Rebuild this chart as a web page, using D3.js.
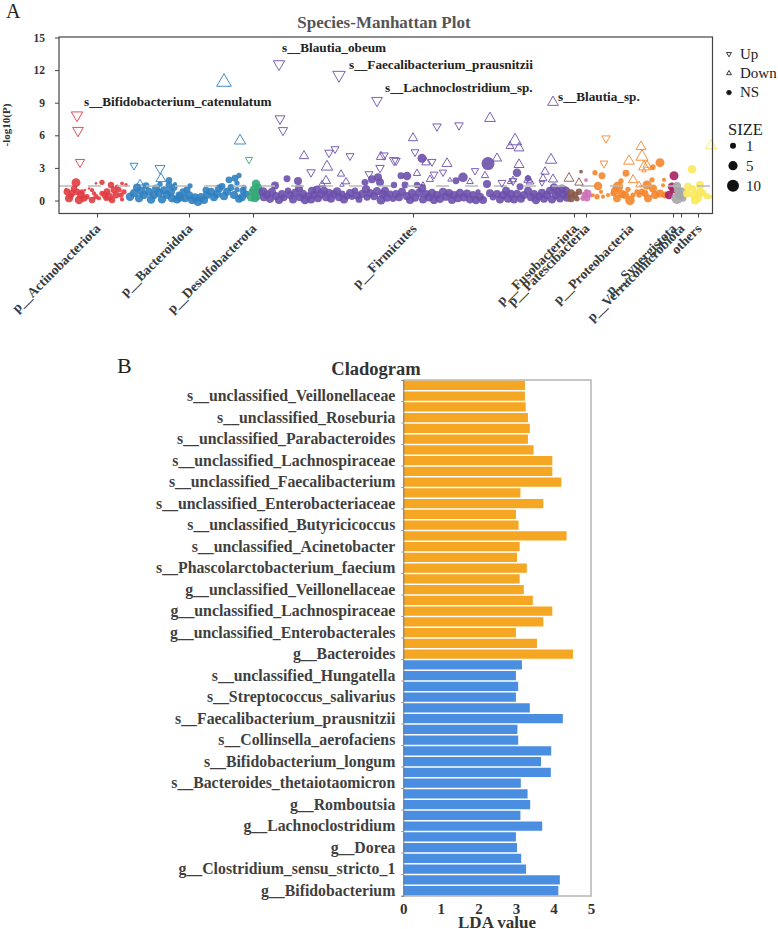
<!DOCTYPE html>
<html>
<head>
<meta charset="utf-8">
<title>Species-Manhattan Plot and Cladogram</title>
<script src="https://cdn.jsdelivr.net/npm/d3@7"></script>
<style>
	html, body { margin: 0; padding: 0; background: #fff; }
	svg { display: block; }
	text { font-family: "Liberation Serif", serif; }
</style>
</head>
<body>
<div id="chart"></div>
<script>
// phylum names, tick positions along the species axis and colours
var phyla = ["p__Actinobacteriota", "p__Bacteroidota", "p__Desulfobacterota", "p__Firmicutes", "p__Fusobacteriota", "p__Patescibacteria", "p__Proteobacteria", "p__Synergistota", "p__Verrucomicrobiota", "others"];
var phylumTicks = [38, 130, 194, 354, 515, 527, 571, 614, 622, 639];
var phylumColors = ["#e03c41", "#2f7fc0", "#35a878", "#6c50ac", "#8a5a4c", "#cd70b6", "#f4862e", "#a81f60", "#a6a6aa", "#f9e95c"];

// non significant species: [position, -log10(P), size], one list per phylum
var actinoDots = [[8,.8,.8],[10,.2,1],[12,.4,.5],[13,.66,.8],[15,1.1,.7],[17,1.64,2.7],[18,.8,.7],[20,.05,1.8],[22,.5,1],[23,.8,.5],[25,.2,.8],[7,1.03,0],[26,.97,0],[28,.35,.5],[30,1.1,0],[33,.95,.3],[33,.05,.7],[35,.66,.3],[37,.35,.5],[37,1.58,0],[40,.2,.3],[43,.66,.5],[43,1.67,.5],[46,.5,.8],[47,.2,.5],[48,.8,.8],[50,.35,1],[52,1.43,.7],[53,.05,.7],[55,.97,.8],[57,.5,.8],[58,1.27,.3],[60,1,.5],[62,.5,.5],[63,.1,.3],[63,1.58,.2],[65,.8,.5],[67,1.43,.2]];
var bacteroDots = [[71,.35,1.8],[75,.7,1],[78,1.2,1],[80,.2,1.2],[82,.9,1.5],[85,.5,1],[87,1.35,.8],[90,.8,1],[92,.1,1.8],[95,.5,1],[97,1.1,1],[100,.7,1.2],[101,1.5,.5],[103,.1,1.5],[105,.95,1],[108,.5,1],[110,1.4,.8],[110,1.87,.7],[112,.8,1],[113,.2,1.2],[115,1.2,.8],[116,1.5,.3],[118,.1,1],[120,.5,.8],[121,.3,1.8],[124,.8,.8],[126,.2,1],[128,1,.8],[130,.5,1.5],[131,1.35,.5],[133,.05,1.5],[136,.3,1],[139,-.1,2.7],[142,.3,1.5],[145,.05,1.2],[147,.95,.8],[148,.5,1],[152,.8,1],[155,.3,1],[158,.6,1],[160,1.1,1],[163,1.3,.8],[165,.4,1.2],[168,.8,1],[170,1.9,.8],[172,1.2,.8],[175,.5,1],[176,2.05,.8],[178,1,.5],[178,1.6,.5],[180,2.3,.5],[180,.15,1],[183,.3,1],[184,.9,.8],[185,1.2,.5],[187,.6,.8]];
var desulfoDots = [[192,.3,1.5],[193,.8,.8],[195,1,1.2],[196,.2,1],[197,1.55,1.8],[198,.4,1],[199,1.2,1],[200,.8,1]];
var firmiDots = [[204,.8,3],[205,.3,1.2],[208,.55,1.5],[211,.15,1.2],[213,.8,1],[216,1.37,1],[217,.4,1.5],[220,.05,1.2],[223,.6,1],[225,.25,.8],[228,2,.8],[229,.9,.7],[231,.5,1],[234,.1,1],[236,.7,1.2],[239,1.8,1],[240,1.1,1],[241,.3,1.2],[244,.6,1.5],[246,.05,1.8],[249,.4,1],[252,.1,1.2],[253,.9,1.2],[255,.5,1],[258,1,1.2],[259,.2,1],[262,.6,1.5],[265,.9,1.2],[267,.3,1.2],[270,.7,1.5],[272,.15,1],[275,.6,1],[278,.85,1.2],[280,.3,1.2],[283,.6,.8],[285,.1,1],[288,.4,.8],[291,.7,1],[293,.3,.5],[296,.9,.7],[298,.45,1],[300,.1,.8],[303,.6,1],[306,1.67,.8],[307,1.03,1.8],[308,.3,.8],[311,.7,1],[313,1.95,1],[315,.4,1.5],[318,.85,1.5],[319,2.13,1],[321,1.67,1],[322,.05,2.7],[324,.6,1.5],[326,.9,1],[328,.25,1],[331,.6,.8],[334,.15,.7],[335,1.43,.7],[337,.6,1],[340,.3,1],[342,2.28,.8],[343,.8,1],[346,1.43,.8],[348,2.25,1.8],[348,.4,1.2],[351,.05,1],[353,.7,1],[356,.25,1.2],[358,1.43,.7],[360,.7,1.2],[363,3.88,2.7],[363,1.12,1.8],[364,.1,1],[367,.6,1],[370,.3,1.8],[373,.7,1.5],[375,.05,1.5],[378,.5,1.2],[381,.15,1.8],[384,.8,1.5],[387,.35,1.5],[390,.7,1],[393,.05,1],[395,.5,1.2],[397,1.82,.8],[399,.2,1],[401,.7,1.8],[404,2.13,3.5],[405,.3,1.5],[408,.65,1],[411,.1,1.5],[414,.5,1.5],[417,.05,1.8],[419,.8,.5],[421,.35,1.2],[424,.05,1],[428,1.52,1],[429,3.4,10],[431,.66,1],[434,.3,.7],[438,.6,1],[441,.1,1],[444,.5,1.5],[447,.9,1],[449,.2,2.7],[452,.6,1.8],[455,.1,1.5],[458,2.56,1.8],[458,.6,1.5],[461,1.27,.8],[462,.15,1],[465,.5,1.2],[469,2.04,.7],[469,.9,1],[472,.3,1.2],[475,.6,1],[477,.05,1.8],[480,.4,1],[483,.7,1.2],[485,.15,1],[488,.5,1.2],[491,.9,1.2],[493,.1,1.5],[495,1.2,1.5],[497,.5,1.8],[499,.8,1.5],[501,.2,1.5],[503,1.1,1.5],[505,.55,1.8],[507,.9,1.5],[508,.25,1]];
var fusoDots = [[512,.66,1],[512,.2,1],[516,.5,.8],[518,.15,.5],[520,.8,.7],[522,2.65,.2]];
var patesciDots = [[524,.2,.5],[526,.5,.8],[527,1.88,.2],[527,.9,.2],[528,.2,.7],[529,.66,.8],[532,.44,.2]];
var proteoDots = [[534,.5,.2],[536,2.56,.5],[538,.35,.5],[539,1.33,1.8],[542,.8,.3],[543,2.28,.8],[544,.35,.3],[549,.5,.3],[554,.65,.5],[556,.9,1],[558,.2,1],[559,1.27,5],[562,1.8,.5],[563,.6,1],[566,.5,1],[567,2.5,.8],[569,1.03,.5],[571,0,3.5],[574,.5,.5],[578,.8,.5],[580,.5,.5],[583,.8,.7],[586,.65,.8],[588,1.43,2.7],[589,.2,1],[593,1.9,.5],[594,1.1,1],[594,3.1,.5],[596,.5,1],[601,3.48,2.7],[601,.65,1],[604,1.4,.3],[606,.5,.8],[605,1.9,.3]];
var synerDots = [[610,.5,1.8],[613,1.27,1.8],[614,.95,.7],[615,2.28,2.7]];
var verruDots = [[618,1.33,1.8],[618,.2,7],[619,.95,1.8],[621,.5,2.7],[623,.8,1.8],[624,.2,.8]];
var otherDots = [[629,1.27,1],[628,.65,1],[633,2.87,1.8],[634,1.1,.7],[636,.5,5],[636,0,1],[639,.2,1],[641,1.43,1],[641,.8,1],[644,.66,.8],[648,.4,.7],[651,.35,.3]];
var phylumDots = [actinoDots, bacteroDots, desulfoDots, firmiDots, fusoDots, patesciDots, proteoDots, synerDots, verruDots, otherDots];

// significant species: [position, -log10(P), size, phylum index]
var upMarks = [[18,7.85,5.2,0],[19,6.44,4.5,0],[21,3.53,3,0],[75,3.22,1.6,1],[101,2.95,3.7,1],[190,3.77,1,2],[220,12.56,5.2,3],[280,11.55,7,3],[318,9.2,4.5,3],[221,7.53,3.7,3],[224,6.46,3,3],[252,2.6,2.2,3],[270,4.4,2.2,3],[276,4.74,1.6,3],[291,4.1,1.6,3],[310,2.44,1.6,3],[321,3,2.2,3],[325,4.15,2.2,3],[335,3.7,3,3],[337,3.66,2.2,3],[356,4.46,1.6,3],[373,3.57,1.6,3],[375,2.4,1.6,3],[378,6.82,2.2,3],[384,2.6,1,3],[400,6.92,2.2,3],[416,2.74,1,3],[443,1.64,1.6,3],[454,1.8,1.6,3],[483,1.6,.6,3],[547,5.72,2.2,6],[545,3.42,1.6,6]];
var downMarks = [[81,1.6,.85,1],[102,2,3.7,1],[165,10.9,10,1],[181,5.5,5.2,1],[245,4.1,3,3],[268,3.1,5.2,3],[267,1.82,3,3],[263,1.5,.85,3],[282,2.44,1,3],[287,1.73,1,3],[283,1.43,.4,3],[322,4.03,3,3],[354,5.75,3,3],[358,2.5,1,3],[364,1.5,.4,3],[367,3.5,2.2,3],[371,1.95,1,3],[388,3.4,3.7,3],[391,1.9,.4,3],[411,1.73,.85,3],[426,2.3,1,3],[431,7.56,4.5,3],[438,3.88,3,3],[451,5,1.6,3],[451,1.7,.6,3],[454,1.9,.85,3],[456,5.48,8,3],[460,4.83,3.7,3],[460,3.3,3.7,3],[469,1.9,2.2,3],[471,1.73,1.6,3],[484,2.04,1.6,3],[486,2.65,2.2,3],[492,3.73,5.2,3],[494,9.04,4.5,3],[494,1.95,3,3],[510,2.04,3.7,4],[520,1.64,2.2,4],[570,3.63,4.5,6],[574,1.89,3,6],[580,1.43,.85,6],[582,4.95,3.7,6],[583,4.03,6.5,6],[585,3.1,4.5,6],[585,2.75,.4,6],[588,3.27,1.6,6],[593,2.96,.4,6],[652,5.05,4.5,9]];

// named species beside their marks: [name, position, -log10(P)]
var speciesNotes = [["s__Bifidobacterium_catenulatum",25,9.06],["s__Blautia_obeum",223,14.1],["s__Faecalibacterium_prausnitzii",290,12.47],["s__Lachnoclostridium_sp.",326,10.35],["s__Blautia_sp.",499,9.5]];

var yTicks = [0, 3, 6, 9, 12, 15];
var shapeLegend = ["Up", "Down", "NS"];
var sizeLegend = [1, 5, 10];

// LDA bars, top to bottom. only every second bar has a label
var enrichedNames = ["s__unclassified_Veillonellaceae", "s__unclassified_Roseburia", "s__unclassified_Parabacteroides", "s__unclassified_Lachnospiraceae", "s__unclassified_Faecalibacterium", "s__unclassified_Enterobacteriaceae", "s__unclassified_Butyricicoccus", "s__unclassified_Acinetobacter", "s__Phascolarctobacterium_faecium", "g__unclassified_Veillonellaceae", "g__unclassified_Lachnospiraceae", "g__unclassified_Enterobacterales", "g__Bacteroides"];
var enrichedLda = [3.24, 3.24, 3.26, 3.32, 3.37, 3.32, 3.47, 3.97, 3.97, 4.21, 3.12, 3.73, 3.0, 3.07, 4.35, 3.1, 3.03, 3.29, 3.1, 3.21, 3.45, 3.97, 3.73, 3.0, 3.56, 4.52];
var depletedNames = ["s__unclassified_Hungatella", "s__Streptococcus_salivarius", "s__Faecalibacterium_prausnitzii", "s__Collinsella_aerofaciens", "s__Bifidobacterium_longum", "s__Bacteroides_thetaiotaomicron", "g__Romboutsia", "g__Lachnoclostridium", "g__Dorea", "g__Clostridium_sensu_stricto_1", "g__Bifidobacterium"];
var depletedLda = [3.16, 3.0, 3.06, 3.0, 3.37, 4.25, 3.04, 3.06, 3.94, 3.67, 3.93, 3.13, 3.31, 3.38, 3.12, 3.7, 3.0, 3.03, 3.14, 3.27, 4.17, 4.13];
var ldaTicks = [0, 1, 2, 3, 4, 5];

var svg = d3.select("#chart").append("svg")
	.attr("width", 778)
	.attr("height", 929);

var textDark = "#333";

// panel letters
svg.append("text").attr("x", 6).attr("y", 18).attr("font-size", 20).attr("fill", "#222").text("A");
svg.append("text").attr("x", 117).attr("y", 373).attr("font-size", 22).attr("fill", "#222").text("B");

// ---- manhattan plot ----
var plot = {left: 59, right: 712.5, top: 37, bottom: 213.5};

var x = d3.scaleLinear().domain([0, 653.5]).range([plot.left, plot.right]);
var y = d3.scaleLinear().domain([0, 15]).range([200.5, 37.5]);
var radius = d3.scaleLinear().domain([0, 1, 5, 10]).range([1, 3, 4.6, 6]);
// the dots of the plot come out fatter than the legend keys
var dotRadius = d3.scaleLinear().domain([0, 1, 5, 10]).range([1.3, 4, 5.2, 6.5]);

function triangleArea(size) {
	// equilateral triangle whose half width follows the dot radius
	var side = 2 * 1.22 * radius(size);
	return Math.sqrt(3) / 4 * side * side;
}
var triangle = d3.symbol().type(d3.symbolTriangle);

svg.append("text")
	.attr("x", 384)
	.attr("y", 27.5)
	.attr("text-anchor", "middle")
	.attr("font-size", 17)
	.attr("font-weight", "bold")
	.attr("fill", "#555")
	.text("Species-Manhattan Plot");

// the dots, phylum after phylum
phylumDots.forEach(function (dots, i) {
	svg.append("g")
		.attr("fill", phylumColors[i])
		.attr("fill-opacity", 0.9)
		.selectAll("circle")
		.data(dots)
		.join("circle")
		.attr("cx", function (d) { return x(d[0]); })
		.attr("cy", function (d) { return y(d[1]); })
		.attr("r", function (d) { return dotRadius(d[2]); });
});

// significance line
svg.append("line")
	.attr("x1", plot.left)
	.attr("x2", plot.right)
	.attr("y1", y(1.33))
	.attr("y2", y(1.33))
	.attr("stroke", "#b9b9b9")
	.attr("stroke-width", 1.5)
	.attr("stroke-dasharray", "13 16");

function drawMarks(marks, rotation) {
	svg.append("g")
		.attr("fill", "none")
		.attr("stroke-width", 1)
		.attr("stroke-opacity", 0.9)
		.selectAll("path")
		.data(marks)
		.join("path")
		.attr("d", function (d) { return triangle.size(triangleArea(d[2]))(); })
		.attr("stroke", function (d) { return phylumColors[d[3]]; })
		.attr("transform", function (d) { return "translate(" + x(d[0]) + "," + y(d[1]) + ") rotate(" + rotation + ")"; });
}
drawMarks(upMarks, 180);
drawMarks(downMarks, 0);

svg.append("g")
	.selectAll("text")
	.data(speciesNotes)
	.join("text")
	.attr("x", function (d) { return x(d[1]); })
	.attr("y", function (d) { return y(d[2]); })
	.attr("dy", "0.32em")
	.attr("font-size", 13.2)
	.attr("font-weight", "bold")
	.attr("fill", "#222")
	.text(function (d) { return d[0]; });

// frame and axes
svg.append("rect")
	.attr("x", plot.left)
	.attr("y", plot.top)
	.attr("width", plot.right - plot.left)
	.attr("height", plot.bottom - plot.top)
	.attr("fill", "none")
	.attr("stroke", "#444")
	.attr("stroke-width", 1.2);

var yAxis = svg.append("g")
	.attr("transform", "translate(" + plot.left + ",0)")
	.call(d3.axisLeft(y).tickValues(yTicks).tickSize(4).tickPadding(10));
yAxis.select(".domain").remove();
yAxis.selectAll("line").attr("stroke", "#444");
yAxis.selectAll("text")
	.attr("font-size", 11.5)
	.attr("font-weight", "bold")
	.attr("font-family", "Liberation Serif")
	.attr("fill", textDark);

svg.append("text")
	.attr("transform", "translate(10,125) rotate(-90)")
	.attr("text-anchor", "middle")
	.attr("font-size", 11)
	.attr("font-weight", "bold")
	.attr("fill", textDark)
	.text("-log10(P)");

var xAxis = svg.append("g")
	.attr("transform", "translate(0," + plot.bottom + ")")
	.call(d3.axisBottom(x)
		.tickValues(phylumTicks)
		.tickSize(4)
		.tickFormat(function (d, i) { return phyla[i]; }));
xAxis.select(".domain").remove();
xAxis.selectAll("line").attr("stroke", "#444");
xAxis.selectAll("text")
	.attr("text-anchor", "end")
	.attr("x", 1)
	.attr("y", 13)
	.attr("dy", "0.3em")
	.attr("transform", "rotate(-45 1 13)")
	.attr("font-size", 13.6)
	.attr("font-weight", "bold")
	.attr("font-family", "Liberation Serif")
	.attr("fill", "#3a3a3a");

// legend
var shapeRows = svg.append("g").selectAll("g")
	.data(shapeLegend)
	.join("g")
	.attr("transform", function (d, i) { return "translate(729," + (54 + i * 19.3) + ")"; });
shapeRows.append("path")
	.attr("d", function (d) {
		if (d == "NS") return d3.symbol().type(d3.symbolCircle).size(16)();
		return triangle.size(triangleArea(0.5))();
	})
	.attr("transform", function (d) { return d == "Up" ? "rotate(180)" : null; })
	.attr("fill", function (d) { return d == "NS" ? "#111" : "none"; })
	.attr("stroke", "#333");
shapeRows.append("text")
	.attr("x", 11)
	.attr("dy", "0.32em")
	.attr("font-size", 15)
	.attr("fill", "#222")
	.text(function (d) { return d; });

svg.append("text")
	.attr("x", 728)
	.attr("y", 135)
	.attr("font-size", 16.5)
	.attr("fill", "#222")
	.text("SIZE");

var sizeRows = svg.append("g").selectAll("g")
	.data(sizeLegend)
	.join("g")
	.attr("transform", function (d, i) { return "translate(733," + (145.7 + i * 20) + ")"; });
sizeRows.append("circle")
	.attr("r", function (d) { return radius(d); })
	.attr("fill", "#111");
sizeRows.append("text")
	.attr("x", 13)
	.attr("dy", "0.35em")
	.attr("font-size", 15)
	.attr("fill", "#222")
	.text(function (d) { return d; });

// ---- cladogram bars ----
var bars = {left: 403.3, right: 591, top: 380, bottom: 896};

var ldaValues = enrichedLda.concat(depletedLda);
var barLabels = enrichedNames.concat(depletedNames);
var barIndex = d3.range(ldaValues.length);

var lda = d3.scaleLinear().domain([0, 5]).range([bars.left, bars.right]);
var band = d3.scaleBand().domain(barIndex).range([bars.top, bars.bottom]).paddingInner(0.14).paddingOuter(0.07);

svg.append("text")
	.attr("x", 376)
	.attr("y", 375)
	.attr("text-anchor", "middle")
	.attr("font-size", 18.5)
	.attr("font-weight", "bold")
	.attr("fill", textDark)
	.text("Cladogram");

// grey frame on top, right and bottom
svg.append("path")
	.attr("d", d3.line()([[bars.left, bars.top], [bars.right, bars.top], [bars.right, bars.bottom], [bars.left, bars.bottom]]))
	.attr("fill", "none")
	.attr("stroke", "#b5b5b5")
	.attr("stroke-width", 1.5);

svg.append("g")
	.selectAll("rect")
	.data(barIndex)
	.join("rect")
	.attr("x", lda(0))
	.attr("y", function (d) { return band(d); })
	.attr("width", function (d) { return lda(ldaValues[d]) - lda(0); })
	.attr("height", band.bandwidth())
	.attr("fill", function (d) { return d < enrichedLda.length ? "#f5a623" : "#4a8ee2"; });

// labels sit on the odd bars, the tick marks on the lower edge of those bars
var labelledBars = barIndex.filter(function (d) { return d % 2 == 1; });
var labelAxis = svg.append("g")
	.attr("transform", "translate(" + bars.left + ",0)")
	.call(d3.axisLeft(band)
		.tickValues(labelledBars)
		.tickSize(2)
		.tickPadding(6)
		.tickFormat(function (d, i) { return barLabels[i]; }));
labelAxis.select(".domain").attr("stroke", "#777");
labelAxis.selectAll("line")
	.attr("stroke", "#999")
	.attr("y1", band.step() / 2)
	.attr("y2", band.step() / 2);
labelAxis.selectAll("text")
	.attr("font-size", 15.8)
	.attr("font-weight", "bold")
	.attr("font-family", "Liberation Serif")
	.attr("fill", "#3f3f3f");

var ldaAxis = svg.append("g")
	.attr("transform", "translate(0," + bars.bottom + ")")
	.call(d3.axisBottom(lda).tickValues(ldaTicks).tickSize(0).tickPadding(7).tickFormat(d3.format("d")));
ldaAxis.select(".domain").remove();
ldaAxis.selectAll("text")
	.attr("font-size", 15)
	.attr("font-weight", "bold")
	.attr("font-family", "Liberation Serif")
	.attr("fill", textDark);

svg.append("text")
	.attr("x", 497)
	.attr("y", 927.5)
	.attr("text-anchor", "middle")
	.attr("font-size", 17)
	.attr("font-weight", "bold")
	.attr("fill", textDark)
	.text("LDA value");
</script>
</body>
</html>
